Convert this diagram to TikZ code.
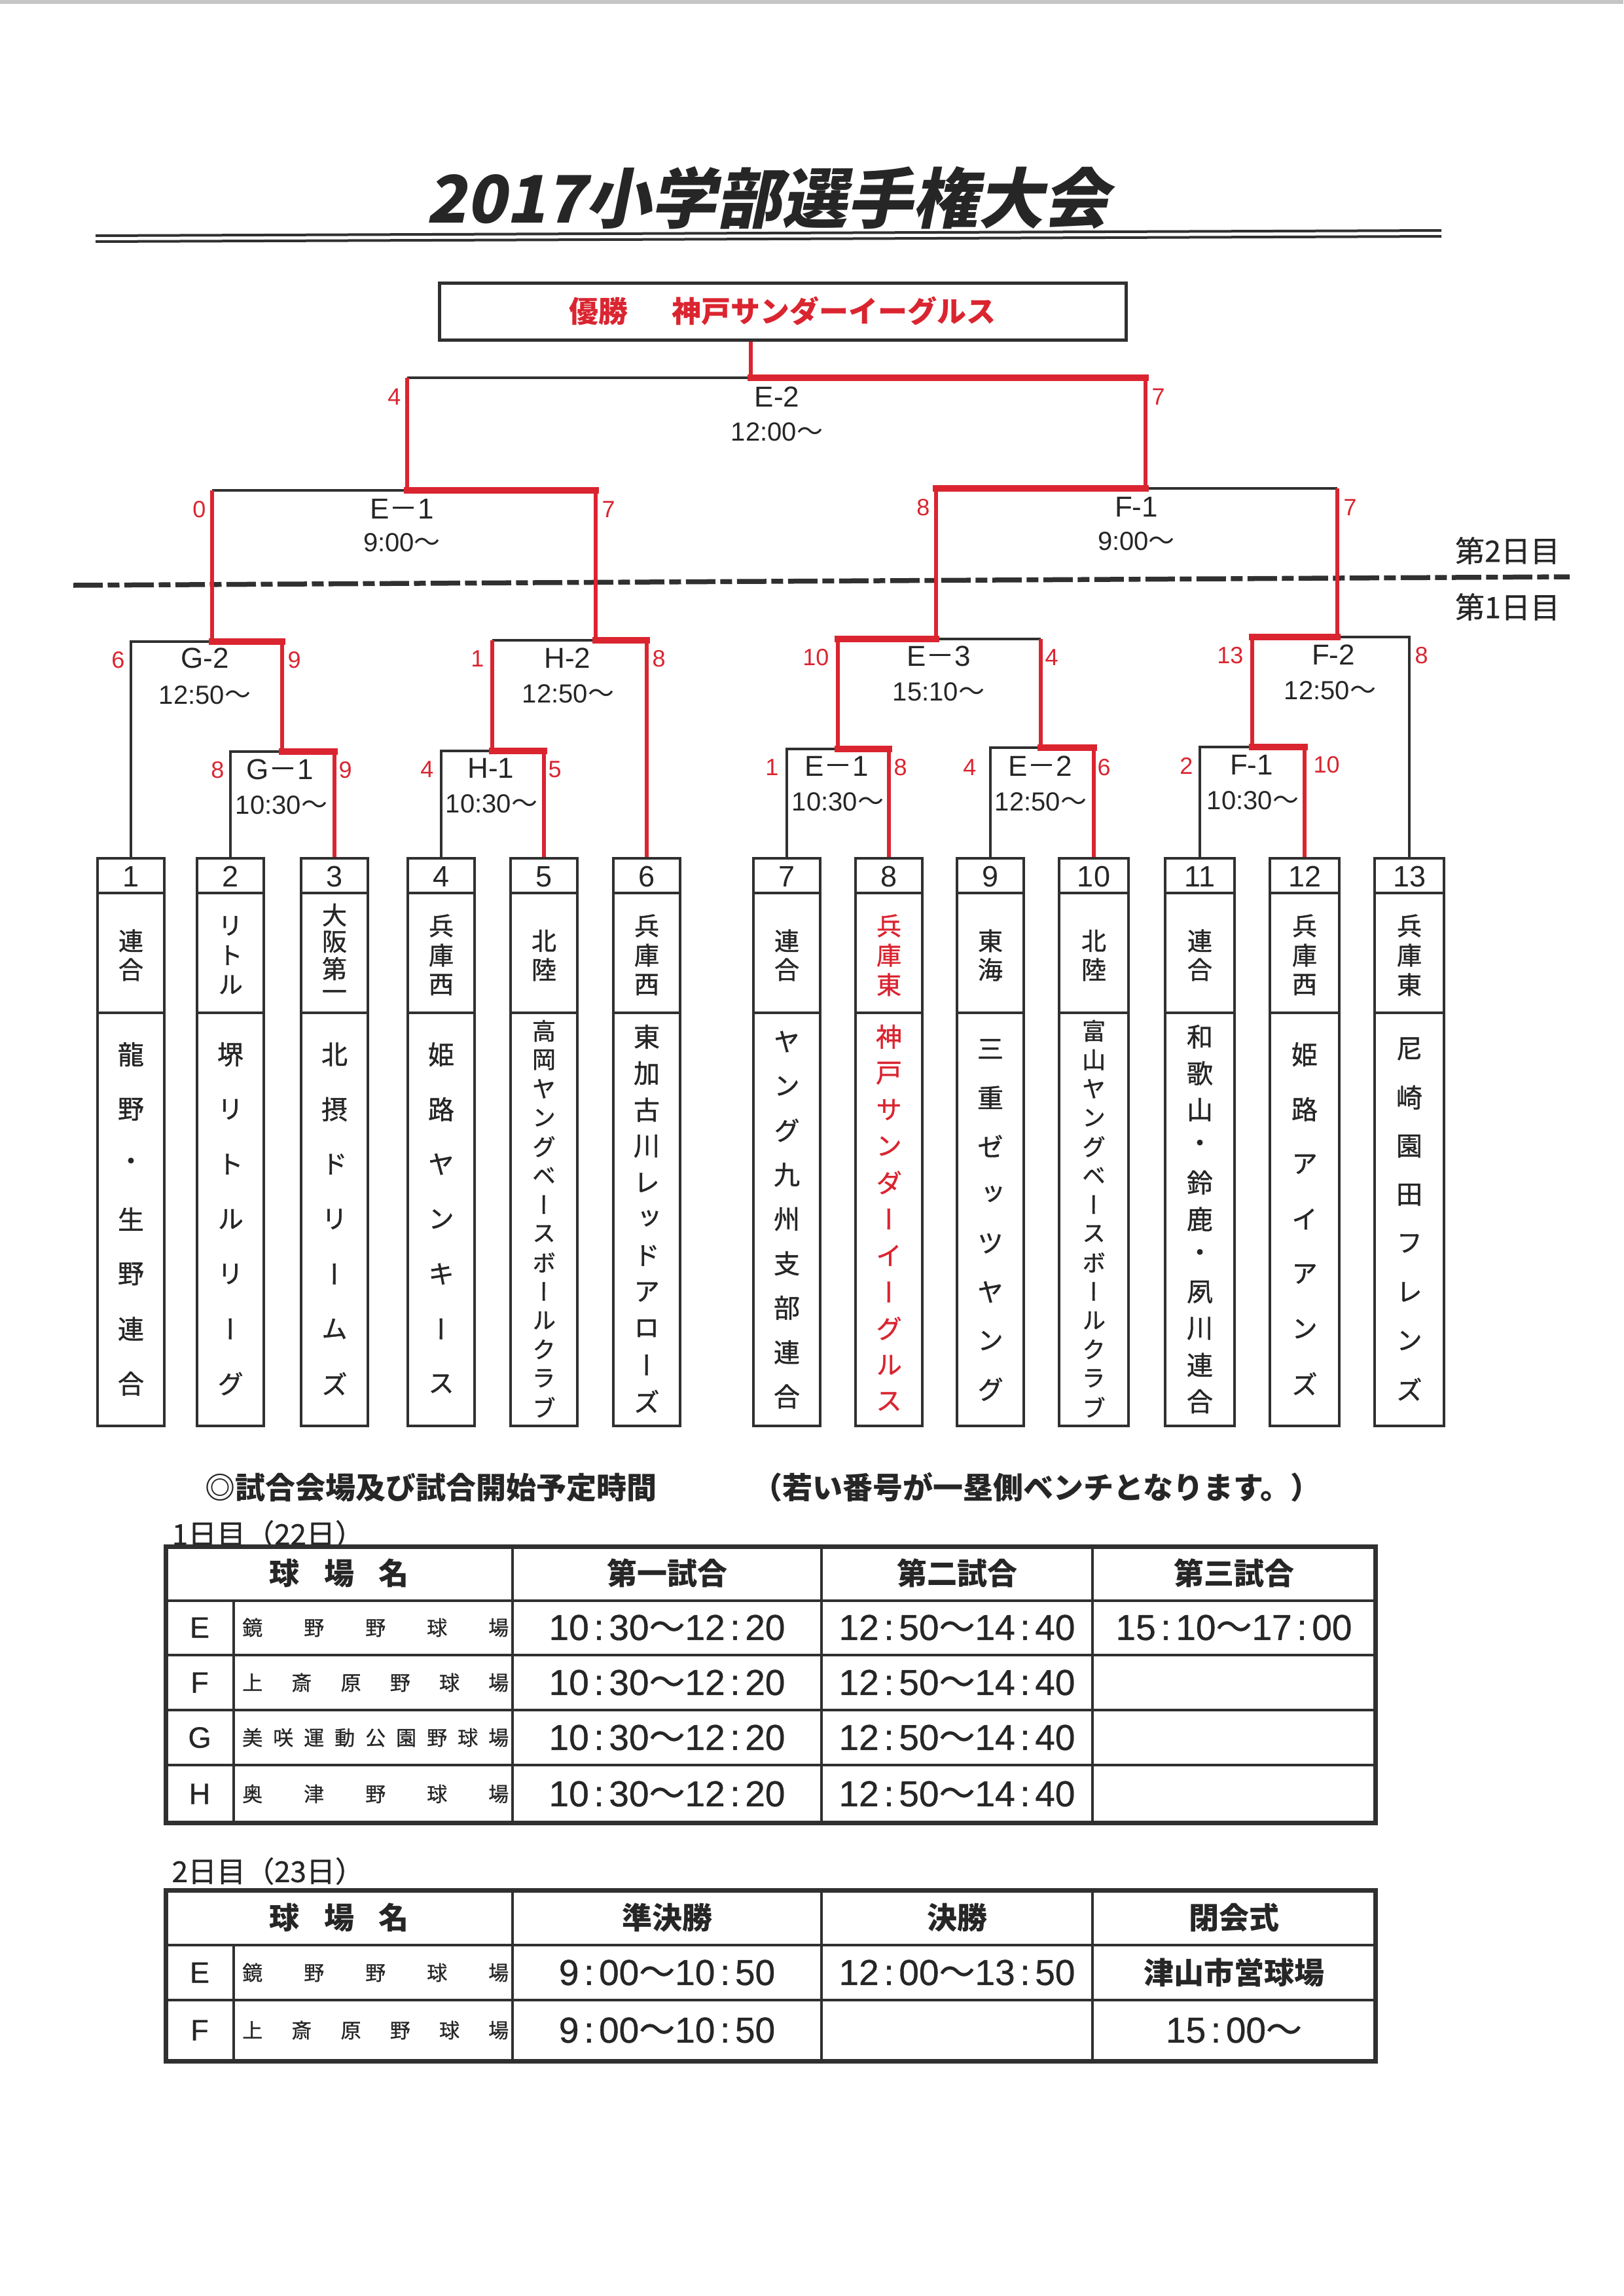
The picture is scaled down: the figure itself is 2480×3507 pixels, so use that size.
\documentclass[tikz,border=0pt]{standalone}
\usepackage{fontspec}
\setmainfont{Liberation Sans}
\newfontfamily\cjk{Noto Sans CJK JP}
\newfontfamily\vjp[RawFeature=+vert, FakeBold=1]{Noto Sans CJK JP}
\newfontfamily\ttlfont[FakeSlant=0.2]{Noto Sans CJK JP}
\newfontfamily\tmfont[FakeBold=0.7]{Liberation Sans}
\newfontfamily\cjkm[FakeBold=0.7]{Noto Sans CJK JP}
\definecolor{rc}{RGB}{218,37,48}
\definecolor{tc}{RGB}{38,38,38}
\definecolor{lc}{RGB}{48,48,48}
\newcommand\fpx[1]{\fontsize{#1}{#1}\selectfont}
\newcommand\fwm{{\cjk －}}
\newcommand\sqt{{\cjk ～}}
\newcommand\fwt{{\cjkm ～}}
\newcommand\cln{\makebox[0.556em]{:}}
\newcommand\vcol[7]{\foreach \ch [count=\i] in {#7} {\node[#6] (#1-\i) at ({#2},{#3-#4/2+(\i-1)*#4/(#5-1)}) {\ch};}}
\newcommand\tbox[5]{%
 \node[tb, minimum width=#3] (#1) at (#2,1744.5) {};
 \draw[bl] ([yshift=-5.5mm]#1.north west) -- ([yshift=-5.5mm]#1.north east);
 \draw[bl] ([yshift=-23.8mm]#1.north west) -- ([yshift=-23.8mm]#1.north east);
 \node[bnum, text=#5] (#1-n) at (#2,1339) {#4};}
\tikzset{
  bl/.style={draw=lc, line width=0.42mm},
  rv/.style={draw=rc, line width=0.6mm},
  rh/.style={draw=rc, line width=0.95mm, line cap=rect},
  tb/.style={draw=lc, line width=0.45mm, inner sep=0, minimum height=86.7mm},
  lbl/.style={inner sep=0, text=tc, font=\fpx{4.4mm}},
  tim/.style={inner sep=0, text=tc, font=\fpx{4mm}},
  num/.style={inner sep=0, text=rc, font=\fpx{3.6mm}},
  bnum/.style={inner sep=0, text=tc, font=\fpx{4.5mm}},
  vt/.style={inner sep=0, text=tc, font=\vjp\fpx{3.8mm}},
  vb/.style={inner sep=0, text=tc, font=\vjp\fpx{4mm}},
  vs/.style={inner sep=0, text=tc, font=\vjp\fpx{3.6mm}},
  tln/.style={draw=lc, line width=0.45mm},
  tlo/.style={draw=lc, line width=0.7mm},
  hd/.style={inner sep=0, text=tc, font=\cjk\bfseries\fpx{4.6mm}},
  lt/.style={inner sep=0, text=tc, font=\tmfont\fpx{4.5mm}},
  vn/.style={inner sep=0, text=tc, font=\cjkm\fpx{3.1mm}, anchor=west},
  tt/.style={inner sep=0, text=tc, font=\tmfont\fpx{5.5mm}},
  nt/.style={inner sep=0, text=tc, font=\cjk\bfseries\fpx{4.6mm}, anchor=west},
  dy/.style={inner sep=0, text=tc, font=\cjkm\fpx{4.4mm}, anchor=west},
  dm/.style={inner sep=0, text=tc, font=\cjkm\fpx{4.5mm}},
}
\begin{document}
\begin{tikzpicture}[x=0.1mm,y=-0.1mm]
\useasboundingbox (0,0) rectangle (2480,3507);
\fill[white] (0,0) rectangle (2480,3507);
\fill[gray!45] (0,0) rectangle (2480,6);

% title
\node[inner sep=0, text=tc, font=\ttlfont\bfseries\fpx{10mm}] (title) at (1173,302) {2017小学部選手権大会};
\coordinate (tl1a) at (146,360); \coordinate (tl1b) at (2202,352);
\coordinate (tl2a) at (146,369); \coordinate (tl2b) at (2202,361);
\draw[lc, line width=0.4mm] (tl1a) -- (tl1b);
\draw[lc, line width=0.4mm] (tl2a) -- (tl2b);

% winner box
\node[draw=lc, line width=0.5mm, minimum width=104.9mm, minimum height=8.7mm, inner sep=0, text=rc, font=\cjk\bfseries\fpx{4.5mm}] (win) at (1195.5,475.5) {優勝　\kern0.5em 神戸サンダーイーグルス};

% day separator
\coordinate (dl1) at (112,894); \coordinate (dl2) at (2398,881);
\draw[lc, line width=0.75mm, dash pattern=on 4.5mm off 0.75mm on 1.8mm off 0.75mm] (dl1) -- (dl2);
\node[dm] (d2) at (2303,841) {第2日目};
\node[dm] (d1) at (2303,927) {第1日目};

% team boxes
\tbox{t1}{200}{10.2mm}{1}{tc}
\vcol{t1a}{200}{1459}{44}{2}{vt}{連,合}
\vcol{t1b}{200}{1862}{503}{7}{vb}{龍,野,・,生,野,連,合}
\tbox{t2}{352}{10.2mm}{2}{tc}
\vcol{t2a}{352}{1459}{90}{3}{vt}{リ,ト,ル}
\vcol{t2b}{352}{1862}{503}{7}{vb}{堺,リ,ト,ル,リ,ー,グ}
\tbox{t3}{511}{10.2mm}{3}{tc}
\vcol{t3a}{511}{1459}{123}{4}{vt}{大,阪,第,一}
\vcol{t3b}{511}{1862}{503}{7}{vb}{北,摂,ド,リ,ー,ム,ズ}
\tbox{t4}{674}{10.2mm}{4}{tc}
\vcol{t4a}{674}{1459}{90}{3}{vt}{兵,庫,西}
\vcol{t4b}{674}{1862}{503}{7}{vb}{姫,路,ヤ,ン,キ,ー,ス}
\tbox{t5}{831}{10.2mm}{5}{tc}
\vcol{t5a}{831}{1459}{44}{2}{vt}{北,陸}
\vcol{t5b}{831}{1862}{575}{14}{vs}{高,岡,ヤ,ン,グ,ベ,ー,ス,ボ,ー,ル,ク,ラ,ブ}
\tbox{t6}{988}{10.2mm}{6}{tc}
\vcol{t6a}{988}{1459}{90}{3}{vt}{兵,庫,西}
\vcol{t6b}{988}{1862}{557}{11}{vb}{東,加,古,川,レ,ッ,ド,ア,ロ,ー,ズ}
\tbox{t7}{1202}{10.2mm}{7}{tc}
\vcol{t7a}{1202}{1459}{44}{2}{vt}{連,合}
\vcol{t7b}{1202}{1862}{542}{9}{vb}{ヤ,ン,グ,九,州,支,部,連,合}
\tbox{t8}{1358}{10.2mm}{8}{tc}
\vcol{t8a}{1358}{1459}{90}{3}{vt,text=rc}{兵,庫,東}
\vcol{t8b}{1358}{1862}{557}{11}{vb,text=rc}{神,戸,サ,ン,ダ,ー,イ,ー,グ,ル,ス}
\tbox{t9}{1513}{10.2mm}{9}{tc}
\vcol{t9a}{1513}{1459}{44}{2}{vt}{東,海}
\vcol{t9b}{1513}{1862}{520}{8}{vb}{三,重,ゼ,ッ,ツ,ヤ,ン,グ}
\tbox{t10}{1671}{10.6mm}{10}{tc}
\vcol{t10a}{1671}{1459}{44}{2}{vt}{北,陸}
\vcol{t10b}{1671}{1862}{575}{14}{vs}{富,山,ヤ,ン,グ,ベ,ー,ス,ボ,ー,ル,ク,ラ,ブ}
\tbox{t11}{1833}{10.6mm}{11}{tc}
\vcol{t11a}{1833}{1459}{44}{2}{vt}{連,合}
\vcol{t11b}{1833}{1862}{557}{11}{vb}{和,歌,山,・,鈴,鹿,・,夙,川,連,合}
\tbox{t12}{1993}{10.6mm}{12}{tc}
\vcol{t12a}{1993}{1459}{90}{3}{vt}{兵,庫,西}
\vcol{t12b}{1993}{1862}{503}{7}{vb}{姫,路,ア,イ,ア,ン,ズ}
\tbox{t13}{2153}{10.6mm}{13}{tc}
\vcol{t13a}{2153}{1459}{90}{3}{vt}{兵,庫,東}
\vcol{t13b}{2153}{1862}{520}{8}{vb}{尼,崎,園,田,フ,レ,ン,ズ}

% bracket coordinates
\coordinate (fin) at (1147,577); \coordinate (fin-L) at (622,577); \coordinate (fin-R) at (1750,577);
\coordinate (sE1) at (622,749); \coordinate (sE1-L) at (324,749); \coordinate (sE1-R) at (910,749);
\coordinate (sF1) at (1750,746); \coordinate (sF1-L) at (1430,746); \coordinate (sF1-R) at (2043,746);
\coordinate (G2) at (324,980); \coordinate (G2-L) at (200,980); \coordinate (G2-R) at (431,980);
\coordinate (H2) at (910,978); \coordinate (H2-L) at (752,978); \coordinate (H2-R) at (988,978);
\coordinate (E3) at (1430,976); \coordinate (E3-L) at (1280,976); \coordinate (E3-R) at (1590,976);
\coordinate (F2) at (2043,973); \coordinate (F2-L) at (1913,973); \coordinate (F2-R) at (2153,973);
\coordinate (G1) at (431,1148); \coordinate (G1-L) at (352,1148); \coordinate (G1-R) at (511,1148);
\coordinate (H1) at (752,1147); \coordinate (H1-L) at (674,1147); \coordinate (H1-R) at (831,1147);
\coordinate (E1) at (1280,1144); \coordinate (E1-L) at (1202,1144); \coordinate (E1-R) at (1358,1144);
\coordinate (E2) at (1590,1142); \coordinate (E2-L) at (1513,1142); \coordinate (E2-R) at (1671,1142);
\coordinate (F1) at (1913,1141); \coordinate (F1-L) at (1833,1141); \coordinate (F1-R) at (1993,1141);

% black lines
\draw[bl] (fin-L) -- (fin-R);
\draw[bl] (sE1-L) -- (sE1-R);
\draw[bl] (sF1-L) -- (sF1-R);
\draw[bl] (t1.north) -- (G2-L) -- (G2-R);
\draw[bl] (H2-L) -- (H2-R);
\draw[bl] (E3-L) -- (E3-R);
\draw[bl] (F2-L) -- (F2-R) -- (t13.north);
\draw[bl] (t2.north) -- (G1-L) -- (G1-R);
\draw[bl] (t4.north) -- (H1-L) -- (H1-R);
\draw[bl] (t7.north) -- (E1-L) -- (E1-R);
\draw[bl] (t9.north) -- (E2-L) -- (E2-R);
\draw[bl] (t11.north) -- (F1-L) -- (F1-R);

% red verticals
\draw[rv] (win.south -| fin) -- (fin);
\draw[rv] (fin-L) -- (sE1);
\draw[rv] (fin-R) -- (sF1);
\draw[rv] (sE1-L) -- (G2);
\draw[rv] (sE1-R) -- (H2);
\draw[rv] (sF1-L) -- (E3);
\draw[rv] (sF1-R) -- (F2);
\draw[rv] (G2-R) -- (G1);
\draw[rv] (H2-L) -- (H1);
\draw[rv] (H2-R) -- (t6.north);
\draw[rv] (E3-L) -- (E1);
\draw[rv] (E3-R) -- (E2);
\draw[rv] (F2-L) -- (F1);
\draw[rv] (G1-R) -- (t3.north);
\draw[rv] (H1-R) -- (t5.north);
\draw[rv] (E1-R) -- (t8.north);
\draw[rv] (E2-R) -- (t10.north);
\draw[rv] (F1-R) -- (t12.north);

% red horizontals
\draw[rh] (fin) -- (fin-R);
\draw[rh] (sE1) -- (sE1-R);
\draw[rh] (sF1) -- (sF1-L);
\draw[rh] (G2) -- (G2-R);
\draw[rh] (H2) -- (H2-R);
\draw[rh] (E3) -- (E3-L);
\draw[rh] (F2) -- (F2-L);
\draw[rh] (G1) -- (G1-R);
\draw[rh] (H1) -- (H1-R);
\draw[rh] (E1) -- (E1-R);
\draw[rh] (E2) -- (E2-R);
\draw[rh] (F1) -- (F1-R);

% match labels
\node[lbl] (lfin) at (1187,606) {E-2};
\node[tim] (tfin) at (1187,660) {12:00\sqt};
\node[lbl] (lsE1) at (614,777) {E\fwm 1};
\node[tim] (tsE1) at (614,829) {9:00\sqt};
\node[lbl] (lsF1) at (1736,774) {F-1};
\node[tim] (tsF1) at (1736,827) {9:00\sqt};
\node[lbl] (lG2) at (313,1005) {G-2};
\node[tim] (tG2) at (313,1062) {12:50\sqt};
\node[lbl] (lH2) at (867,1005) {H-2};
\node[tim] (tH2) at (868,1060) {12:50\sqt};
\node[lbl] (lE3) at (1434,1002) {E\fwm 3};
\node[tim] (tE3) at (1434,1057) {15:10\sqt};
\node[lbl] (lF2) at (2037,1000) {F-2};
\node[tim] (tF2) at (2032,1055) {12:50\sqt};
\node[lbl] (lG1) at (428,1175) {G\fwm 1};
\node[tim] (tG1) at (430,1230) {10:30\sqt};
\node[lbl] (lH1) at (750,1173) {H-1};
\node[tim] (tH1) at (751,1228) {10:30\sqt};
\node[lbl] (lE1) at (1278,1170) {E\fwm 1};
\node[tim] (tE1) at (1280,1225) {10:30\sqt};
\node[lbl] (lE2) at (1589,1170) {E\fwm 2};
\node[tim] (tE2) at (1590,1225) {12:50\sqt};
\node[lbl] (lF1) at (1912,1168) {F-1};
\node[tim] (tF1) at (1914,1223) {10:30\sqt};

% scores
\node[num, anchor=east] (nfa) at ([shift={(-9,29)}]fin-L) {4};
\node[num, anchor=west] (nfb) at ([shift={(9,29)}]fin-R) {7};
\node[num, anchor=east] (nsea) at ([shift={(-9,29)}]sE1-L) {0};
\node[num, anchor=west] (nseb) at ([shift={(9,29)}]sE1-R) {7};
\node[num, anchor=east] (nsfa) at ([shift={(-9,29)}]sF1-L) {8};
\node[num, anchor=west] (nsfb) at ([shift={(9,29)}]sF1-R) {7};
\node[num, anchor=east] (ng2a) at ([shift={(-9,28)}]G2-L) {6};
\node[num, anchor=west] (ng2b) at ([shift={(8,28)}]G2-R) {9};
\node[num, anchor=east] (nh2a) at ([shift={(-12,28)}]H2-L) {1};
\node[num, anchor=west] (nh2b) at ([shift={(8,28)}]H2-R) {8};
\node[num, anchor=east] (ne3a) at ([shift={(-13,28)}]E3-L) {10};
\node[num, anchor=west] (ne3b) at ([shift={(6,28)}]E3-R) {4};
\node[num, anchor=east] (nf2a) at ([shift={(-13,28)}]F2-L) {13};
\node[num, anchor=west] (nf2b) at ([shift={(8,28)}]F2-R) {8};
\node[num, anchor=east] (ng1a) at ([shift={(-9,28)}]G1-L) {8};
\node[num, anchor=west] (ng1b) at ([shift={(6,28)}]G1-R) {9};
\node[num, anchor=east] (nh1a) at ([shift={(-11,28)}]H1-L) {4};
\node[num, anchor=west] (nh1b) at ([shift={(6,28)}]H1-R) {5};
\node[num, anchor=east] (ne1a) at ([shift={(-12,28)}]E1-L) {1};
\node[num, anchor=west] (ne1b) at ([shift={(7,28)}]E1-R) {8};
\node[num, anchor=east] (ne2a) at ([shift={(-21,30)}]E2-L) {4};
\node[num, anchor=west] (ne2b) at ([shift={(5,30)}]E2-R) {6};
\node[num, anchor=east] (nf1a) at ([shift={(-10,29)}]F1-L) {2};
\node[num, anchor=west] (nf1b) at ([shift={(13,27)}]F1-R) {10};

% notes
\node[nt] (note1) at (313,2272) {◎試合会場及び試合開始予定時間};
\node[nt] (note2) at (1149,2272) {（若い番号が一塁側ベンチとなります。）};

% table 1
\node[dy] (day1) at (262,2343) {1日目（22日）};
\draw[tlo] (253,2362) rectangle (2101,2784);
\foreach \yy in {2445,2528,2612,2696} \draw[tln] (253,\yy) -- (2101,\yy);
\foreach \xx in {783,1255,1669} \draw[tln] (\xx,2362) -- (\xx,2784);
\draw[tln] (357,2445) -- (357,2784);
\node[hd] (h1a) at (518,2403) {球\hspace{3.8mm}場\hspace{3.8mm}名};
\node[hd] (h1b) at (1019,2403) {第一試合};
\node[hd] (h1c) at (1462,2403) {第二試合};
\node[hd] (h1d) at (1885,2403) {第三試合};
\node[lt] (r1e) at (305,2486) {E};
\node[vn] (v1e) at (369.5,2486) {\makebox[40.7mm]{鏡\hfill 野\hfill 野\hfill 球\hfill 場}};
\node[tt] (a1e) at (1019,2486) {10\cln 30\fwt 12\cln 20};
\node[tt] (b1e) at (1462,2486) {12\cln 50\fwt 14\cln 40};
\node[tt] (c1e) at (1885,2486) {15\cln 10\fwt 17\cln 00};
\node[lt] (r1f) at (305,2570) {F};
\node[vn] (v1f) at (369.5,2570) {\makebox[40.7mm]{上\hfill 斎\hfill 原\hfill 野\hfill 球\hfill 場}};
\node[tt] (a1f) at (1019,2570) {10\cln 30\fwt 12\cln 20};
\node[tt] (b1f) at (1462,2570) {12\cln 50\fwt 14\cln 40};
\node[lt] (r1g) at (305,2654) {G};
\node[vn] (v1g) at (369.5,2654) {\makebox[40.7mm]{美\hfill 咲\hfill 運\hfill 動\hfill 公\hfill 園\hfill 野\hfill 球\hfill 場}};
\node[tt] (a1g) at (1019,2654) {10\cln 30\fwt 12\cln 20};
\node[tt] (b1g) at (1462,2654) {12\cln 50\fwt 14\cln 40};
\node[lt] (r1h) at (305,2740) {H};
\node[vn] (v1h) at (369.5,2740) {\makebox[40.7mm]{奥\hfill 津\hfill 野\hfill 球\hfill 場}};
\node[tt] (a1h) at (1019,2740) {10\cln 30\fwt 12\cln 20};
\node[tt] (b1h) at (1462,2740) {12\cln 50\fwt 14\cln 40};

% table 2
\node[dy] (day2) at (262,2858) {2日目（23日）};
\draw[tlo] (253,2887) rectangle (2101,3148);
\foreach \yy in {2971,3055} \draw[tln] (253,\yy) -- (2101,\yy);
\foreach \xx in {783,1255,1669} \draw[tln] (\xx,2887) -- (\xx,3148);
\draw[tln] (357,2971) -- (357,3148);
\node[hd] (h2a) at (518,2929) {球\hspace{3.8mm}場\hspace{3.8mm}名};
\node[hd] (h2b) at (1019,2929) {準決勝};
\node[hd] (h2c) at (1462,2929) {決勝};
\node[hd] (h2d) at (1885,2929) {閉会式};
\node[lt] (r2e) at (305,3013) {E};
\node[vn] (v2e) at (369.5,3013) {\makebox[40.7mm]{鏡\hfill 野\hfill 野\hfill 球\hfill 場}};
\node[tt] (a2e) at (1019,3013) {9\cln 00\fwt 10\cln 50};
\node[tt] (b2e) at (1462,3013) {12\cln 00\fwt 13\cln 50};
\node[hd] (c2e) at (1885,3013) {津山市営球場};
\node[lt] (r2f) at (305,3101) {F};
\node[vn] (v2f) at (369.5,3101) {\makebox[40.7mm]{上\hfill 斎\hfill 原\hfill 野\hfill 球\hfill 場}};
\node[tt] (a2f) at (1019,3101) {9\cln 00\fwt 10\cln 50};
\node[tt] (c2f) at (1885,3101) {15\cln 00\fwt};
\end{tikzpicture}
\end{document}
